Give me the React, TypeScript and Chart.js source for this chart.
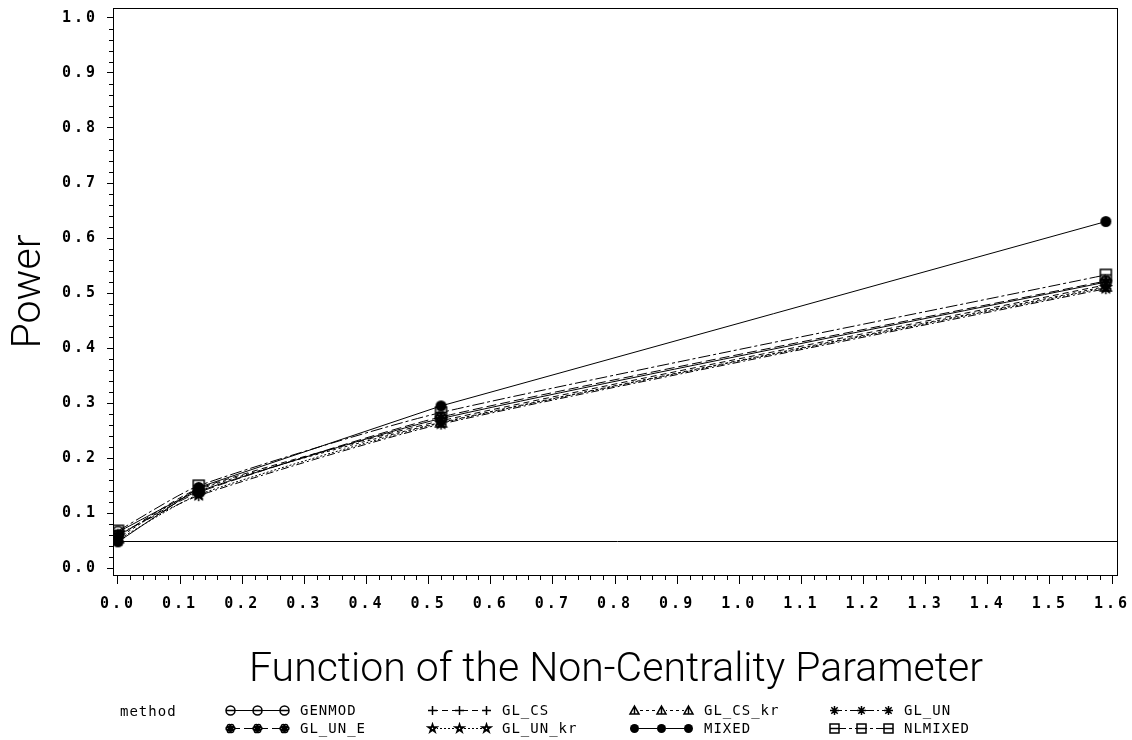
import React, { useEffect, useRef } from 'react';
import { Chart, registerables } from 'chart.js';

Chart.register(...registerables);

// Non-centrality function values at which power was estimated
const NCP = [0, 0.13, 0.52, 1.59];

// Estimated power per method
const GENMOD = [0.066, 0.140, 0.272, 0.520];
const GL_CS = [0.058, 0.145, 0.268, 0.515];
const GL_CS_KR = [0.055, 0.143, 0.265, 0.512];
const GL_UN = [0.062, 0.132, 0.262, 0.508];
const GL_UN_E = [0.060, 0.138, 0.275, 0.522];
const GL_UN_KR = [0.052, 0.134, 0.264, 0.510];
const MIXED = [0.048, 0.147, 0.295, 0.630];
const NLMIXED = [0.068, 0.150, 0.283, 0.533];

const METHODS = ['GENMOD', 'GL_CS', 'GL_CS_kr', 'GL_UN', 'GL_UN_E', 'GL_UN_kr', 'MIXED', 'NLMIXED'];
const SERIES = [GENMOD, GL_CS, GL_CS_KR, GL_UN, GL_UN_E, GL_UN_KR, MIXED, NLMIXED];

// Axis ticks
const X_TICKS = [0, 0.1, 0.2, 0.3, 0.4, 0.5, 0.6, 0.7, 0.8, 0.9, 1.0, 1.1, 1.2, 1.3, 1.4, 1.5, 1.6];
const Y_TICKS = [0, 0.1, 0.2, 0.3, 0.4, 0.5, 0.6, 0.7, 0.8, 0.9, 1.0];

// Nominal type I error level (horizontal reference line)
const NOMINAL_ALPHA = 0.05;

const X_TITLE = 'Function of the Non-Centrality Parameter';
const Y_TITLE = 'Power';
const LEGEND_TITLE = 'method';

type MarkerKind = 'thetaCircle' | 'plus' | 'triangle' | 'asterisk' | 'flower' | 'pentagram' | 'dot' | 'boxLine';
const MARKERS: MarkerKind[] = ['thetaCircle', 'plus', 'triangle', 'asterisk', 'flower', 'pentagram', 'dot', 'boxLine'];
const DASHES: number[][] = [[], [6, 4], [3, 3], [8, 3, 2, 3], [10, 4], [2, 2], [], [12, 3, 3, 3]];

function makeMarker(kind: MarkerKind, size: number): HTMLCanvasElement {
  const pad = 2;
  const c = document.createElement('canvas');
  c.width = size + pad * 2;
  c.height = size + pad * 2;
  const ctx = c.getContext('2d')!;
  const cx = c.width / 2;
  const cy = c.height / 2;
  const r = size / 2;
  ctx.strokeStyle = '#000';
  ctx.fillStyle = '#000';
  ctx.lineWidth = 1.5;
  ctx.beginPath();
  switch (kind) {
    case 'thetaCircle':
      ctx.arc(cx, cy, r, 0, Math.PI * 2);
      ctx.moveTo(cx - r, cy);
      ctx.lineTo(cx + r, cy);
      ctx.stroke();
      break;
    case 'plus':
      ctx.moveTo(cx - r, cy);
      ctx.lineTo(cx + r, cy);
      ctx.moveTo(cx, cy - r);
      ctx.lineTo(cx, cy + r);
      ctx.stroke();
      break;
    case 'triangle':
      ctx.moveTo(cx, cy - r);
      ctx.lineTo(cx + r, cy + r * 0.8);
      ctx.lineTo(cx - r, cy + r * 0.8);
      ctx.closePath();
      ctx.moveTo(cx, cy - r);
      ctx.lineTo(cx, cy + r * 0.8);
      ctx.stroke();
      break;
    case 'asterisk':
      for (let k = 0; k < 4; k++) {
        const a = (k * Math.PI) / 4;
        ctx.moveTo(cx - Math.cos(a) * r, cy - Math.sin(a) * r);
        ctx.lineTo(cx + Math.cos(a) * r, cy + Math.sin(a) * r);
      }
      ctx.stroke();
      break;
    case 'flower':
      for (let k = 0; k < 6; k++) {
        const a = (k * Math.PI) / 3;
        ctx.moveTo(cx + Math.cos(a) * r * 0.55 + r * 0.42, cy + Math.sin(a) * r * 0.55);
        ctx.arc(cx + Math.cos(a) * r * 0.55, cy + Math.sin(a) * r * 0.55, r * 0.42, 0, Math.PI * 2);
      }
      ctx.stroke();
      ctx.beginPath();
      ctx.arc(cx, cy, r * 0.3, 0, Math.PI * 2);
      ctx.fill();
      break;
    case 'pentagram':
      for (let k = 0; k < 5; k++) {
        const a = -Math.PI / 2 + (k * 4 * Math.PI) / 5;
        const px = cx + Math.cos(a) * r;
        const py = cy + Math.sin(a) * r;
        if (k === 0) ctx.moveTo(px, py);
        else ctx.lineTo(px, py);
      }
      ctx.closePath();
      ctx.stroke();
      break;
    case 'dot':
      ctx.arc(cx, cy, r, 0, Math.PI * 2);
      ctx.fill();
      break;
    case 'boxLine':
      ctx.rect(cx - r, cy - r, r * 2, r * 2);
      ctx.moveTo(cx - r, cy);
      ctx.lineTo(cx + r, cy);
      ctx.stroke();
      break;
  }
  return c;
}

// Drop the edge padding Chart.js reserves for the outermost tick labels
const noEdgePadding = (s: any) => {
  s.paddingLeft = 0;
  s.paddingRight = 0;
  s.paddingTop = 0;
  s.paddingBottom = 0;
};

export default function App() {
  const canvasRef = useRef<HTMLCanvasElement | null>(null);

  useEffect(() => {
    const canvas = canvasRef.current;
    if (!canvas) return;

    const plotMarkers = MARKERS.map((k) => makeMarker(k, 11));
    const legendMarkers = MARKERS.map((k) => makeMarker(k, 9));

    const tickFont = { family: 'DejaVu Sans Mono', size: 15, weight: 'bold' as const };

    const decorations = {
      id: 'sasDecorations',
      beforeDraw(chart: any) {
        chart.ctx.letterSpacing = '3px';
      },
      beforeDatasetsDraw(chart: any) {
        const ctx = chart.ctx;
        ctx.letterSpacing = '0px';
        const { left, right, top, bottom } = chart.chartArea;
        const xs = chart.scales.x;
        const ys = chart.scales.y;
        ctx.save();
        ctx.strokeStyle = '#000';
        ctx.lineWidth = 1;
        // frame
        ctx.strokeRect(Math.round(left) + 0.5, Math.round(top) + 0.5, Math.round(right - left), Math.round(bottom - top));
        // minor ticks
        ctx.beginPath();
        for (let i = 0; i <= 50; i++) {
          if (i % 5 === 0) continue;
          const py = Math.round(ys.getPixelForValue(i * 0.02)) + 0.5;
          ctx.moveTo(left - 4, py);
          ctx.lineTo(left, py);
        }
        for (let i = 0; i <= 80; i++) {
          if (i % 5 === 0) continue;
          const px = Math.round(xs.getPixelForValue(i * 0.02)) + 0.5;
          ctx.moveTo(px, bottom);
          ctx.lineTo(px, bottom + 5);
        }
        ctx.stroke();
        // nominal level reference line
        const ry = Math.round(ys.getPixelForValue(NOMINAL_ALPHA)) + 0.5;
        ctx.beginPath();
        ctx.moveTo(xs.getPixelForValue(0), ry);
        ctx.lineTo(right, ry);
        ctx.stroke();
        ctx.restore();
      },
      afterDraw(chart: any) {
        const ctx = chart.ctx;
        const { top, bottom } = chart.chartArea;
        ctx.save();
        ctx.letterSpacing = '0px';
        ctx.fillStyle = '#000';
        // axis titles
        ctx.font = '300 41px Roboto, "Liberation Sans", sans-serif';
        ctx.textAlign = 'center';
        ctx.textBaseline = 'alphabetic';
        ctx.fillText(X_TITLE, 616, 681);
        ctx.save();
        ctx.translate(40, (top + bottom) / 2);
        ctx.rotate(-Math.PI / 2);
        ctx.fillText(Y_TITLE, 0, 0);
        ctx.restore();

        // legend
        ctx.font = '14px "DejaVu Sans Mono", monospace';
        ctx.letterSpacing = '1px';
        ctx.textAlign = 'left';
        ctx.textBaseline = 'middle';
        ctx.fillText(LEGEND_TITLE, 120, 712);
        const symX = [230, 432, 634, 834];
        const textX = [300, 502, 704, 904];
        const rowY = [710, 728];
        METHODS.forEach((m, i) => {
          const col = i % 4;
          const row = Math.floor(i / 4);
          const y = rowY[row];
          const x0 = symX[col];
          const x1 = x0 + 54;
          ctx.save();
          ctx.strokeStyle = '#000';
          ctx.lineWidth = 1;
          ctx.setLineDash(DASHES[i]);
          ctx.beginPath();
          ctx.moveTo(x0, y + 0.5);
          ctx.lineTo(x1, y + 0.5);
          ctx.stroke();
          ctx.restore();
          const mk = legendMarkers[i];
          [x0, (x0 + x1) / 2, x1].forEach((mx) => {
            ctx.clearRect(mx - mk.width / 2 + 2, y - mk.height / 2 + 2, mk.width - 4, mk.height - 4);
            ctx.drawImage(mk, Math.round(mx - mk.width / 2), Math.round(y - mk.height / 2));
          });
          ctx.fillText(m, textX[col], y + 1);
        });
        ctx.restore();
      },
    };

    const chart = new Chart(canvas, {
      type: 'line',
      data: {
        datasets: METHODS.map((m, i) => ({
          label: m,
          data: NCP.map((x, j) => ({ x, y: SERIES[i][j] })),
          borderColor: '#000',
          backgroundColor: '#000',
          borderWidth: 1,
          borderDash: DASHES[i],
          pointStyle: plotMarkers[i],
          pointRadius: 5,
          tension: m === 'MIXED' ? 0 : 0.2,
          fill: false,
        })),
      },
      options: {
        animation: false,
        responsive: false,
        maintainAspectRatio: false,
        layout: { padding: { left: 0, right: 15, top: 8, bottom: 0 } },
        plugins: { legend: { display: false }, tooltip: { enabled: false } },
        scales: {
          x: {
            type: 'linear',
            min: -0.008,
            max: 1.608,
            afterBuildTicks: (s: any) => {
              s.ticks = X_TICKS.map((v) => ({ value: v }));
            },
            afterFit: (s: any) => {
              s.height = 165;
              noEdgePadding(s);
            },
            grid: { drawOnChartArea: false, color: '#000', tickLength: 9 },
            border: { color: '#000' },
            ticks: {
              color: '#000',
              font: tickFont,
              padding: 11,
              maxRotation: 0,
              autoSkip: false,
              callback: (v: any) => Number(v).toFixed(1),
            },
          },
          y: {
            type: 'linear',
            min: -0.0122,
            max: 1.018,
            afterBuildTicks: (s: any) => {
              s.ticks = Y_TICKS.map((v) => ({ value: v }));
            },
            afterFit: (s: any) => {
              s.width = 113;
              noEdgePadding(s);
            },
            grid: { drawOnChartArea: false, color: '#000', tickLength: 6 },
            border: { color: '#000' },
            ticks: {
              color: '#000',
              font: tickFont,
              padding: 9,
              autoSkip: false,
              callback: (v: any) => Number(v).toFixed(1),
            },
          },
        },
      },
      plugins: [decorations],
    });

    return () => chart.destroy();
  }, []);

  return (
    <div style={{ position: 'absolute', left: 0, top: 0, width: 1132, height: 740, background: '#fff' }}>
      <canvas ref={canvasRef} width={1132} height={740} style={{ display: 'block' }} />
    </div>
  );
}
